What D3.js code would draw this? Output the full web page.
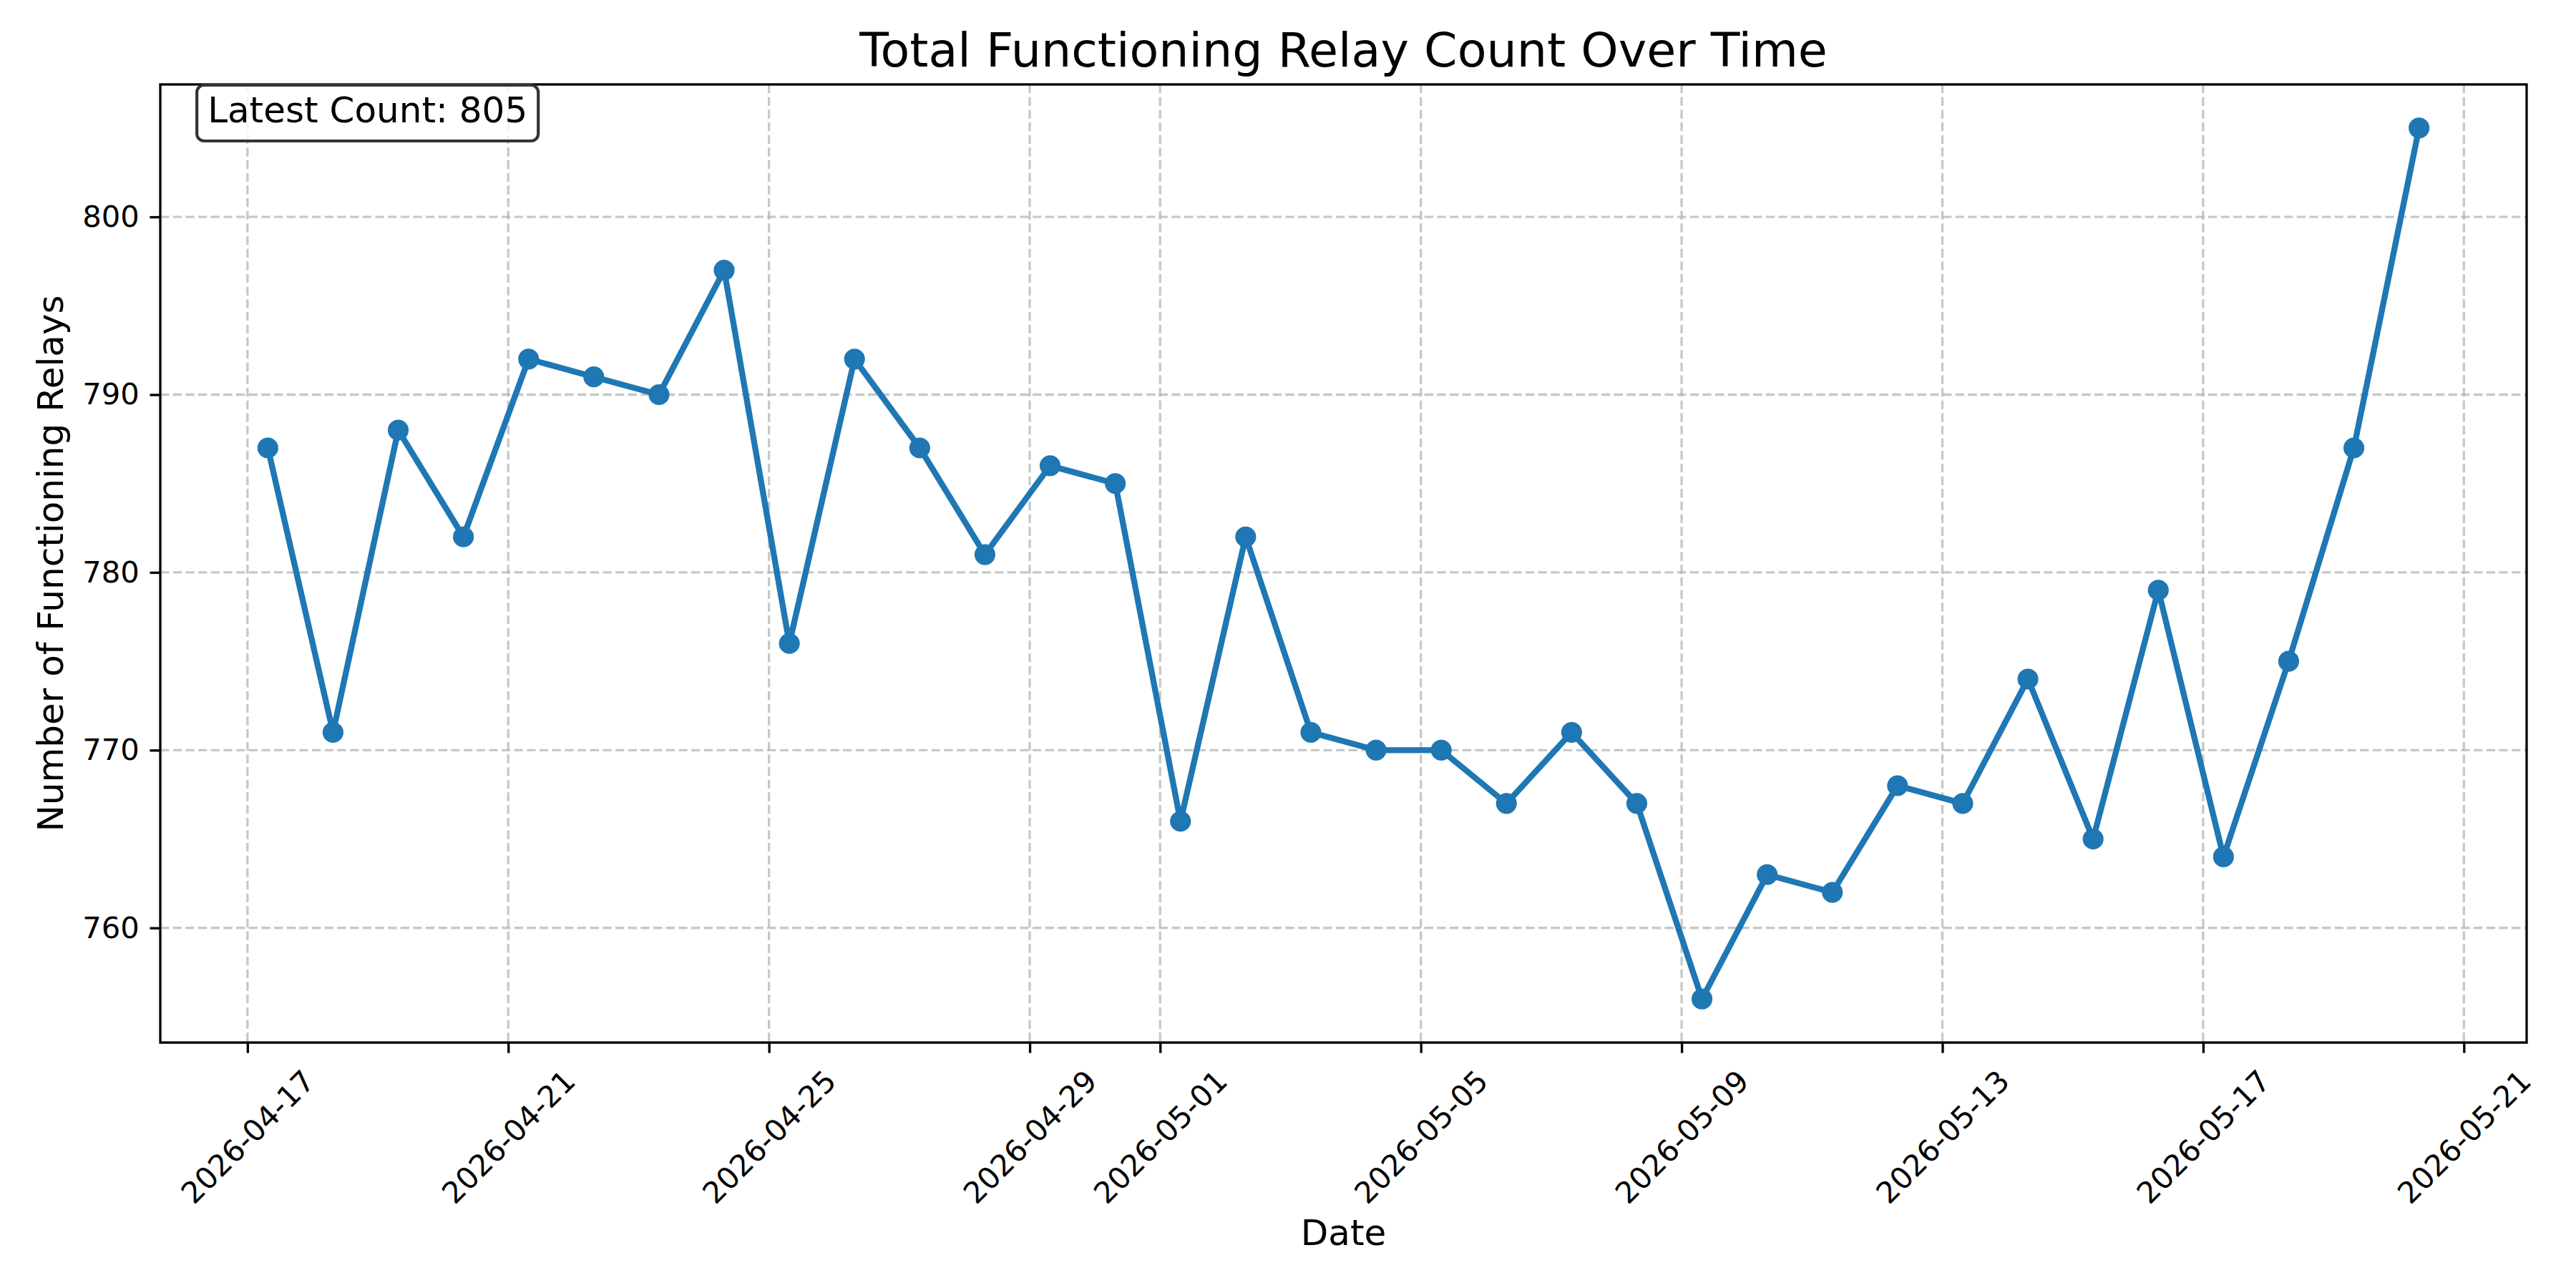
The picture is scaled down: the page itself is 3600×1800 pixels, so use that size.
<!DOCTYPE html>
<html>
<head>
<meta charset="utf-8">
<script src="https://cdn.jsdelivr.net/npm/d3@7"></script>
<style>
  body { margin: 0; background: #fff; }
  svg { display: block; font-family: "DejaVu Sans", sans-serif; }
</style>
</head>
<body>
<div id="chart"></div>
<script>
// daily snapshots of relay count
var dates = [
  "2026-04-17T07:30Z", "2026-04-18T07:30Z", "2026-04-19T07:30Z", "2026-04-20T07:30Z",
  "2026-04-21T07:30Z", "2026-04-22T07:30Z", "2026-04-23T07:30Z", "2026-04-24T07:30Z",
  "2026-04-25T07:30Z", "2026-04-26T07:30Z", "2026-04-27T07:30Z", "2026-04-28T07:30Z",
  "2026-04-29T07:30Z", "2026-04-30T07:30Z", "2026-05-01T07:30Z", "2026-05-02T07:30Z",
  "2026-05-03T07:30Z", "2026-05-04T07:30Z", "2026-05-05T07:30Z", "2026-05-06T07:30Z",
  "2026-05-07T07:30Z", "2026-05-08T07:30Z", "2026-05-09T07:30Z", "2026-05-10T07:30Z",
  "2026-05-11T07:30Z", "2026-05-12T07:30Z", "2026-05-13T07:30Z", "2026-05-14T07:30Z",
  "2026-05-15T07:30Z", "2026-05-16T07:30Z", "2026-05-17T07:30Z", "2026-05-18T07:30Z",
  "2026-05-19T07:30Z", "2026-05-20T07:30Z"
];
var counts = [
  787, 771, 788, 782, 792, 791, 790, 797,
  776, 792, 787, 781, 786, 785, 766, 782,
  771, 770, 770, 767, 771, 767, 756, 763,
  762, 768, 767, 774, 765, 779, 764, 775,
  787, 805
];
var xTickLabels = [
  "2026-04-17", "2026-04-21", "2026-04-25", "2026-04-29", "2026-05-01",
  "2026-05-05", "2026-05-09", "2026-05-13", "2026-05-17", "2026-05-21"
];
var yTicks = [760, 770, 780, 790, 800];

var W = 3600, H = 1800;
var pt = 300 / 72; // figure was 300 dpi
// note: "top" is taken by window.top, so use plot* names
var plotL = 224, plotR = 3531, plotT = 118, plotB = 1457;

var parsed = dates.map(function(d) { return new Date(d); });
var data = parsed.map(function(d, i) { return { date: d, value: counts[i] }; });

// 5% margins like matplotlib
var tExt = d3.extent(parsed), tPad = (tExt[1] - tExt[0]) * 0.05;
var vExt = d3.extent(counts), vPad = (vExt[1] - vExt[0]) * 0.05;

var x = d3.scaleUtc()
    .domain([new Date(+tExt[0] - tPad), new Date(+tExt[1] + tPad)])
    .range([plotL, plotR]);
var y = d3.scaleLinear()
    .domain([vExt[0] - vPad, vExt[1] + vPad])
    .range([plotB, plotT]);

var svg = d3.select("#chart").append("svg")
    .attr("width", W)
    .attr("height", H);

svg.append("rect").attr("width", W).attr("height", H).attr("fill", "#fff");

var xTickDates = xTickLabels.map(function(s) { return new Date(s + "T00:00Z"); });

// grid
var grid = svg.append("g").attr("class", "grid");
grid.selectAll(".vgrid").data(xTickDates).enter().append("line")
    .attr("x1", function(d) { return x(d); })
    .attr("x2", function(d) { return x(d); })
    .attr("y1", plotT).attr("y2", plotB);
grid.selectAll(".hgrid").data(yTicks).enter().append("line")
    .attr("y1", function(d) { return y(d); })
    .attr("y2", function(d) { return y(d); })
    .attr("x1", plotL).attr("x2", plotR);
grid.selectAll("line")
    .attr("stroke", "#b0b0b0")
    .attr("stroke-opacity", 0.7)
    .attr("stroke-width", 0.8 * pt)
    .attr("stroke-dasharray", (3.7 * 0.8 * pt) + "," + (1.6 * 0.8 * pt));

// series
var line = d3.line()
    .x(function(d) { return x(d.date); })
    .y(function(d) { return y(d.value); });

svg.append("path")
    .datum(data)
    .attr("d", line)
    .attr("fill", "none")
    .attr("stroke", "#1f77b4")
    .attr("stroke-width", 2 * pt)
    .attr("stroke-linejoin", "round");

svg.append("g").selectAll("circle").data(data).enter().append("circle")
    .attr("cx", function(d) { return x(d.date); })
    .attr("cy", function(d) { return y(d.value); })
    .attr("r", 3 * pt)
    .attr("fill", "#1f77b4")
    .attr("stroke", "#1f77b4")
    .attr("stroke-width", 1 * pt);

// axes
var tickLen = 3.5 * pt;
var xAxis = svg.append("g")
    .attr("transform", "translate(0," + plotB + ")")
    .call(d3.axisBottom(x)
        .tickValues(xTickDates)
        .tickFormat(function(d, i) { return xTickLabels[i]; })
        .tickSize(tickLen)
        .tickPadding(tickLen));

var yAxis = svg.append("g")
    .attr("transform", "translate(" + plotL + ",0)")
    .call(d3.axisLeft(y)
        .tickValues(yTicks)
        .tickFormat(d3.format("d"))
        .tickSize(tickLen)
        .tickPadding(tickLen));

svg.selectAll(".domain").remove();
svg.selectAll(".tick line").attr("stroke", "#000").attr("stroke-width", 0.8 * pt);
svg.selectAll(".tick text")
    .attr("fill", "#000")
    .style("font-family", "'DejaVu Sans', sans-serif")
    .style("font-size", (10 * pt) + "px");

// rotated date labels: rotated box centred on tick, top below the tick
var fs = 10 * pt, lineH = fs * 1.164;
xAxis.selectAll(".tick text").each(function() {
  var t = d3.select(this);
  var w = this.getComputedTextLength();
  var side = (w + lineH) / Math.SQRT2;
  t.attr("x", 0).attr("y", 0).attr("dy", null)
    .attr("text-anchor", "middle")
    .attr("dominant-baseline", "central")
    .attr("transform", "translate(0," + (2 * tickLen + side / 2) + ") rotate(-45)");
});

// spines
svg.append("rect")
    .attr("x", plotL).attr("y", plotT)
    .attr("width", plotR - plotL).attr("height", plotB - plotT)
    .attr("fill", "none")
    .attr("stroke", "#000")
    .attr("stroke-width", 0.8 * pt);

// labels
svg.append("text")
    .attr("x", (plotL + plotR) / 2)
    .attr("y", plotT - 6 * pt)
    .attr("text-anchor", "middle")
    .style("font-size", (16 * pt) + "px")
    .text("Total Functioning Relay Count Over Time");

svg.append("text")
    .attr("x", (plotL + plotR) / 2)
    .attr("y", 1740)
    .attr("text-anchor", "middle")
    .style("font-size", (12 * pt) + "px")
    .text("Date");

svg.append("text")
    .attr("transform", "translate(88," + ((plotT + plotB) / 2) + ") rotate(-90)")
    .attr("text-anchor", "middle")
    .style("font-size", (12 * pt) + "px")
    .text("Number of Functioning Relays");

// latest count box
var latest = counts[counts.length - 1];
var boxG = svg.append("g");
var boxRect = boxG.append("rect");
var boxText = boxG.append("text")
    .attr("x", plotL + 0.02 * (plotR - plotL))
    .attr("y", 171)
    .style("font-size", (12 * pt) + "px")
    .text("Latest Count: " + latest);
var tw = boxText.node().getComputedTextLength();
boxRect
    .attr("x", plotL + 0.02 * (plotR - plotL) - 15)
    .attr("y", 119)
    .attr("width", tw + 30)
    .attr("height", 78)
    .attr("rx", 10).attr("ry", 10)
    .attr("fill", "#fff")
    .attr("fill-opacity", 0.8)
    .attr("stroke", "#333")
    .attr("stroke-width", 1 * pt);
</script>
</body>
</html>
